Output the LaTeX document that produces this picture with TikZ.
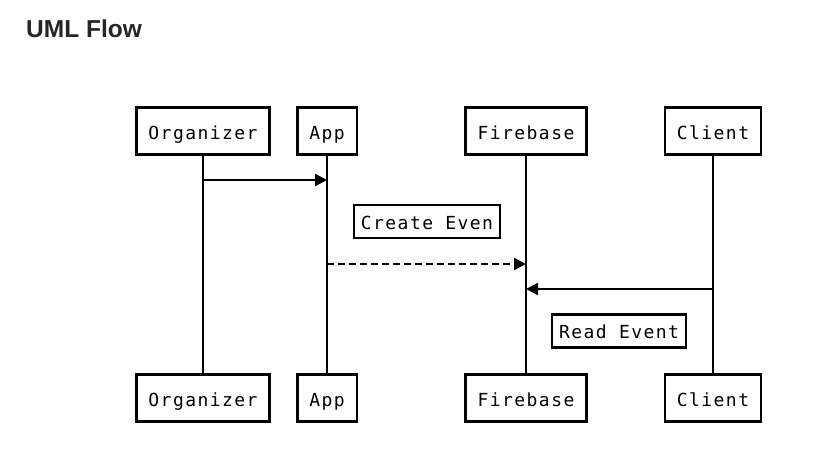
\documentclass[tikz,border=0pt]{standalone}
\usepackage{fontspec}
\setmainfont{Liberation Sans}
\setmonofont[LetterSpace=8]{DejaVu Sans Mono}
\usepackage{tikz}
\usetikzlibrary{arrows.meta, positioning, calc}

\begin{document}
\begin{tikzpicture}[
  x=1pt, y=-1pt,
  actor/.style={rectangle, draw=black, line width=2.4pt, fill=white, minimum height=47pt, inner xsep=12pt, text height=17pt, text depth=1pt, font=\fontsize{18}{22}\ttfamily},
  note/.style={rectangle, draw=black, line width=2.4pt, fill=white, minimum height=33pt, inner xsep=7pt, text height=17pt, text depth=2pt, font=\fontsize{18}{22}\ttfamily},
  lifeline/.style={line width=2.4pt},
  msg/.style={-{Triangle[length=12pt,width=12pt]}, line width=2.4pt},
  reply/.style={msg, dash pattern=on 7pt off 4pt}
]
  \useasboundingbox[fill=white] (0,0) rectangle (829,459);
  \node[anchor=west, inner sep=0pt, font=\fontsize{24.5}{26}\selectfont\bfseries, text=black!85] (title) at (26,29) {UML Flow};

  % participants, top and bottom
  \node[actor] (orgT) at (203,131) {Organizer};
  \node[actor] (appT) at (327,131) {App};
  \node[actor] (fbT) at (526,131) {Firebase};
  \node[actor] (cliT) at (713,131) {Client};
  \node[actor] (orgB) at (203,398) {Organizer};
  \node[actor] (appB) at (327,398) {App};
  \node[actor] (fbB) at (526,398) {Firebase};
  \node[actor] (cliB) at (713,398) {Client};

  \draw[lifeline] (orgT) -- (orgB);
  \draw[lifeline] (appT) -- (appB);
  \draw[lifeline] (fbT) -- (fbB);
  \draw[lifeline] (cliT) -- (cliB);

  % message levels
  \coordinate (m1) at (0,180);
  \coordinate (m2) at (0,264);
  \coordinate (m3) at (0,289);

  \draw[msg] (orgT |- m1) -- (appT |- m1);
  \draw[reply] (appT |- m2) -- (fbT |- m2);
  \draw[msg] (cliT |- m3) -- (fbT |- m3);

  \node[note] (create) at (427,221.5) {Create Even};
  \node[note] (read) at (619,331) {Read Event};
\end{tikzpicture}
\end{document}
